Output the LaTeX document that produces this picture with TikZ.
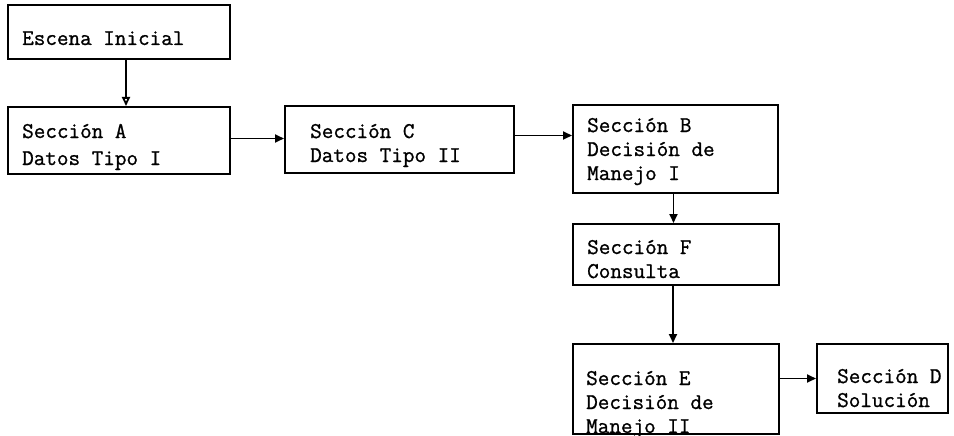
\documentclass[tikz,border=0pt]{standalone}
\usepackage{fontspec}
\setmonofont[FakeBold=1]{Latin Modern Mono}
\usetikzlibrary{arrows.meta}
\begin{document}
\begin{tikzpicture}[x=1pt,y=-1pt,
  box/.style={draw, line width=2pt, rectangle, inner sep=0pt, anchor=north west},
  lbl/.style={font=\ttfamily\fontsize{22.5}{24}\selectfont, align=left, inner sep=0pt, anchor=base west},
  link/.style={line width=1.8pt, -{Triangle[length=9pt,width=8pt]}},
  openlink/.style={line width=1.8pt, -{Triangle[open,length=9pt,width=8pt]}}]
  \useasboundingbox (0,0) rectangle (954,436);

  % section boxes (top-left corner, width, height)
  \node[box, minimum width=222pt, minimum height=54pt] (ini) at (7,4) {};
  \node[box, minimum width=222pt, minimum height=67pt] (A) at (7,106) {};
  \node[box, minimum width=229pt, minimum height=67pt] (C) at (284,105) {};
  \node[box, minimum width=205pt, minimum height=88pt] (B) at (572,104) {};
  \node[box, minimum width=206pt, minimum height=61pt] (F) at (572,223) {};
  \node[box, minimum width=206pt, minimum height=90pt] (E) at (572,343) {};
  \node[box, minimum width=131pt, minimum height=69pt] (D) at (816,343) {};

  % labels (anchored at the baseline of their last line)
  \node[lbl] (iniT) at (22,45) {Escena Inicial};
  \node[lbl] (AT) at (22,165) {Sección A\\[3pt]Datos Tipo I};
  \node[lbl] (CT) at (310,162) {Sección C\\Datos Tipo II};
  \node[lbl] (BT) at (587,180) {Sección B\\Decisión de\\Manejo I};
  \node[lbl] (FT) at (587,278) {Sección F\\Consulta};
  \node[lbl] (ET) at (586,433) {Sección E\\Decisión de\\Manejo II};
  \node[lbl] (DT) at (837,407) {Sección D\\Solución};

  % connectors
  \draw[openlink] ([xshift=7pt]ini.south) -- ([xshift=7pt]ini.south |- A.north);
  \draw[link] ([yshift=2pt]A.east) -- ([yshift=2pt]A.east -| C.west);
  \draw[link] ([yshift=4pt]C.east) -- ([yshift=4pt]C.east -| B.west);
  \draw[link] ([xshift=-2pt]B.south) -- ([xshift=-2pt]B.south |- F.north);
  \draw[link] ([xshift=-3pt]F.south) -- ([xshift=-3pt]F.south |- E.north);
  \draw[link] (D.west -| E.east) -- (D.west);
\end{tikzpicture}
\end{document}
